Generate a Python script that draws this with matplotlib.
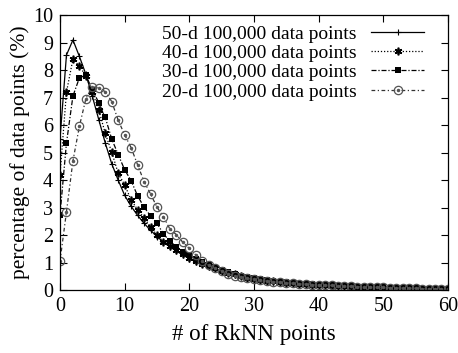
import matplotlib
matplotlib.use("Agg")
import matplotlib.pyplot as plt
from matplotlib.legend_handler import HandlerTuple

# RkNN count (x) and share of data points (%) for each dimensionality
k_values = list(range(0, 61))

pct_50d = [5.5, 8.55, 9.1, 8.5, 7.85, 7.05, 6.2, 5.35, 4.6, 4.0,
           3.45, 3.05, 2.72, 2.43, 2.18, 1.95, 1.75, 1.58, 1.42, 1.28,
           1.15, 1.04, 0.95, 0.86, 0.78, 0.7, 0.63, 0.56, 0.5, 0.45,
           0.41, 0.37, 0.34, 0.31, 0.29, 0.27, 0.25, 0.23, 0.21, 0.2,
           0.18, 0.17, 0.16, 0.15, 0.14, 0.13, 0.12, 0.11, 0.1, 0.1,
           0.09, 0.08, 0.08, 0.07, 0.07, 0.06, 0.06, 0.05, 0.05, 0.05,
           0.04]

pct_40d = [4.2, 7.2, 8.4, 8.15, 7.8, 7.2, 6.55, 5.7, 5.02, 4.25,
           3.83, 3.28, 2.93, 2.62, 2.31, 2.0, 1.76, 1.6, 1.45, 1.3,
           1.17, 1.06, 0.96, 0.87, 0.79, 0.71, 0.64, 0.57, 0.51, 0.46,
           0.42, 0.38, 0.35, 0.32, 0.29, 0.27, 0.25, 0.23, 0.22, 0.2,
           0.19, 0.17, 0.16, 0.15, 0.14, 0.13, 0.12, 0.11, 0.11, 0.1,
           0.09, 0.09, 0.08, 0.07, 0.07, 0.06, 0.06, 0.05, 0.05, 0.05,
           0.04]

pct_30d = [2.75, 5.35, 7.06, 7.72, 7.82, 7.28, 6.82, 6.28, 5.5, 4.93,
           4.38, 3.98, 3.43, 3.02, 2.7, 2.43, 2.05, 1.78, 1.58, 1.4,
           1.27, 1.12, 1.01, 0.91, 0.82, 0.73, 0.66, 0.59, 0.52, 0.47,
           0.43, 0.39, 0.36, 0.33, 0.3, 0.28, 0.26, 0.24, 0.22, 0.21,
           0.19, 0.18, 0.17, 0.16, 0.15, 0.14, 0.13, 0.12, 0.11, 0.1,
           0.1, 0.09, 0.08, 0.08, 0.07, 0.07, 0.06, 0.06, 0.05, 0.05,
           0.05]

pct_20d = [1.05, 2.85, 4.7, 5.96, 6.96, 7.4, 7.35, 7.22, 6.86, 6.18,
           5.65, 5.18, 4.56, 3.95, 3.5, 3.02, 2.67, 2.22, 2.02, 1.74,
           1.52, 1.28, 1.05, 0.9, 0.8, 0.7, 0.6, 0.53, 0.47, 0.43,
           0.39, 0.36, 0.33, 0.31, 0.29, 0.27, 0.25, 0.23, 0.22, 0.2,
           0.19, 0.18, 0.17, 0.16, 0.15, 0.14, 0.13, 0.12, 0.11, 0.1,
           0.1, 0.09, 0.08, 0.08, 0.07, 0.07, 0.06, 0.06, 0.05, 0.05,
           0.04]

series_labels = ["50-d 100,000 data points", "40-d 100,000 data points",
                 "30-d 100,000 data points", "20-d 100,000 data points"]

x_ticks = [0, 10, 20, 30, 40, 50, 60]
y_ticks = [0, 1, 2, 3, 4, 5, 6, 7, 8, 9, 10]

plt.rcParams["font.family"] = ["Liberation Serif", "DejaVu Serif"]
fs = 14.5
plt.rcParams["font.size"] = fs

fig = plt.figure(figsize=(4.58, 3.53), dpi=100)
ax = fig.add_axes([0.131, 0.178, 0.847, 0.779])

lw = 0.9
h50, = ax.plot(k_values, pct_50d, color="black", lw=lw, ls="-",
               marker="+", ms=5, mew=0.8)
h40, = ax.plot(k_values, pct_40d, color="black", lw=lw, ls=(0, (1, 1.5)),
               marker=(6, 2, 0), ms=5.5, mew=1.2)
h30, = ax.plot(k_values, pct_30d, color="black", lw=lw, ls=(0, (4, 1.5, 1, 1.5)),
               marker="s", ms=5, mew=0)
h20, = ax.plot(k_values, pct_20d, color="#333333", lw=lw, ls=(0, (3, 2, 1, 2)),
               marker="o", ms=6, mfc="none", mec="#555555", mew=0.9)
h20c, = ax.plot(k_values, pct_20d, ls="none", marker="o", ms=1.5,
                color="#555555")

ax.set_xlim(0, 60)
ax.set_ylim(0, 10)
ax.set_xticks(x_ticks)
ax.set_yticks(y_ticks)
ax.tick_params(direction="in", length=5, width=0.8, top=True, right=True,
               labelsize=fs, pad=5)
for sp in ax.spines.values():
    sp.set_linewidth(0.9)

ax.set_xlabel("# of RkNN points", fontsize=16.5, labelpad=6)
ax.set_ylabel("percentage of data points (%)", fontsize=15.5, labelpad=2)

ax.legend([h50, h40, h30, (h20, h20c)], series_labels,
          handler_map={tuple: HandlerTuple(ndivide=1, pad=0)},
          loc="upper right", bbox_to_anchor=(0.963, 1.0),
          frameon=False, markerfirst=False, numpoints=1,
          handlelength=2.7, handletextpad=0.75, labelspacing=0.09,
          borderpad=0.0, fontsize=14)

fig.savefig("out.png", dpi=100)
